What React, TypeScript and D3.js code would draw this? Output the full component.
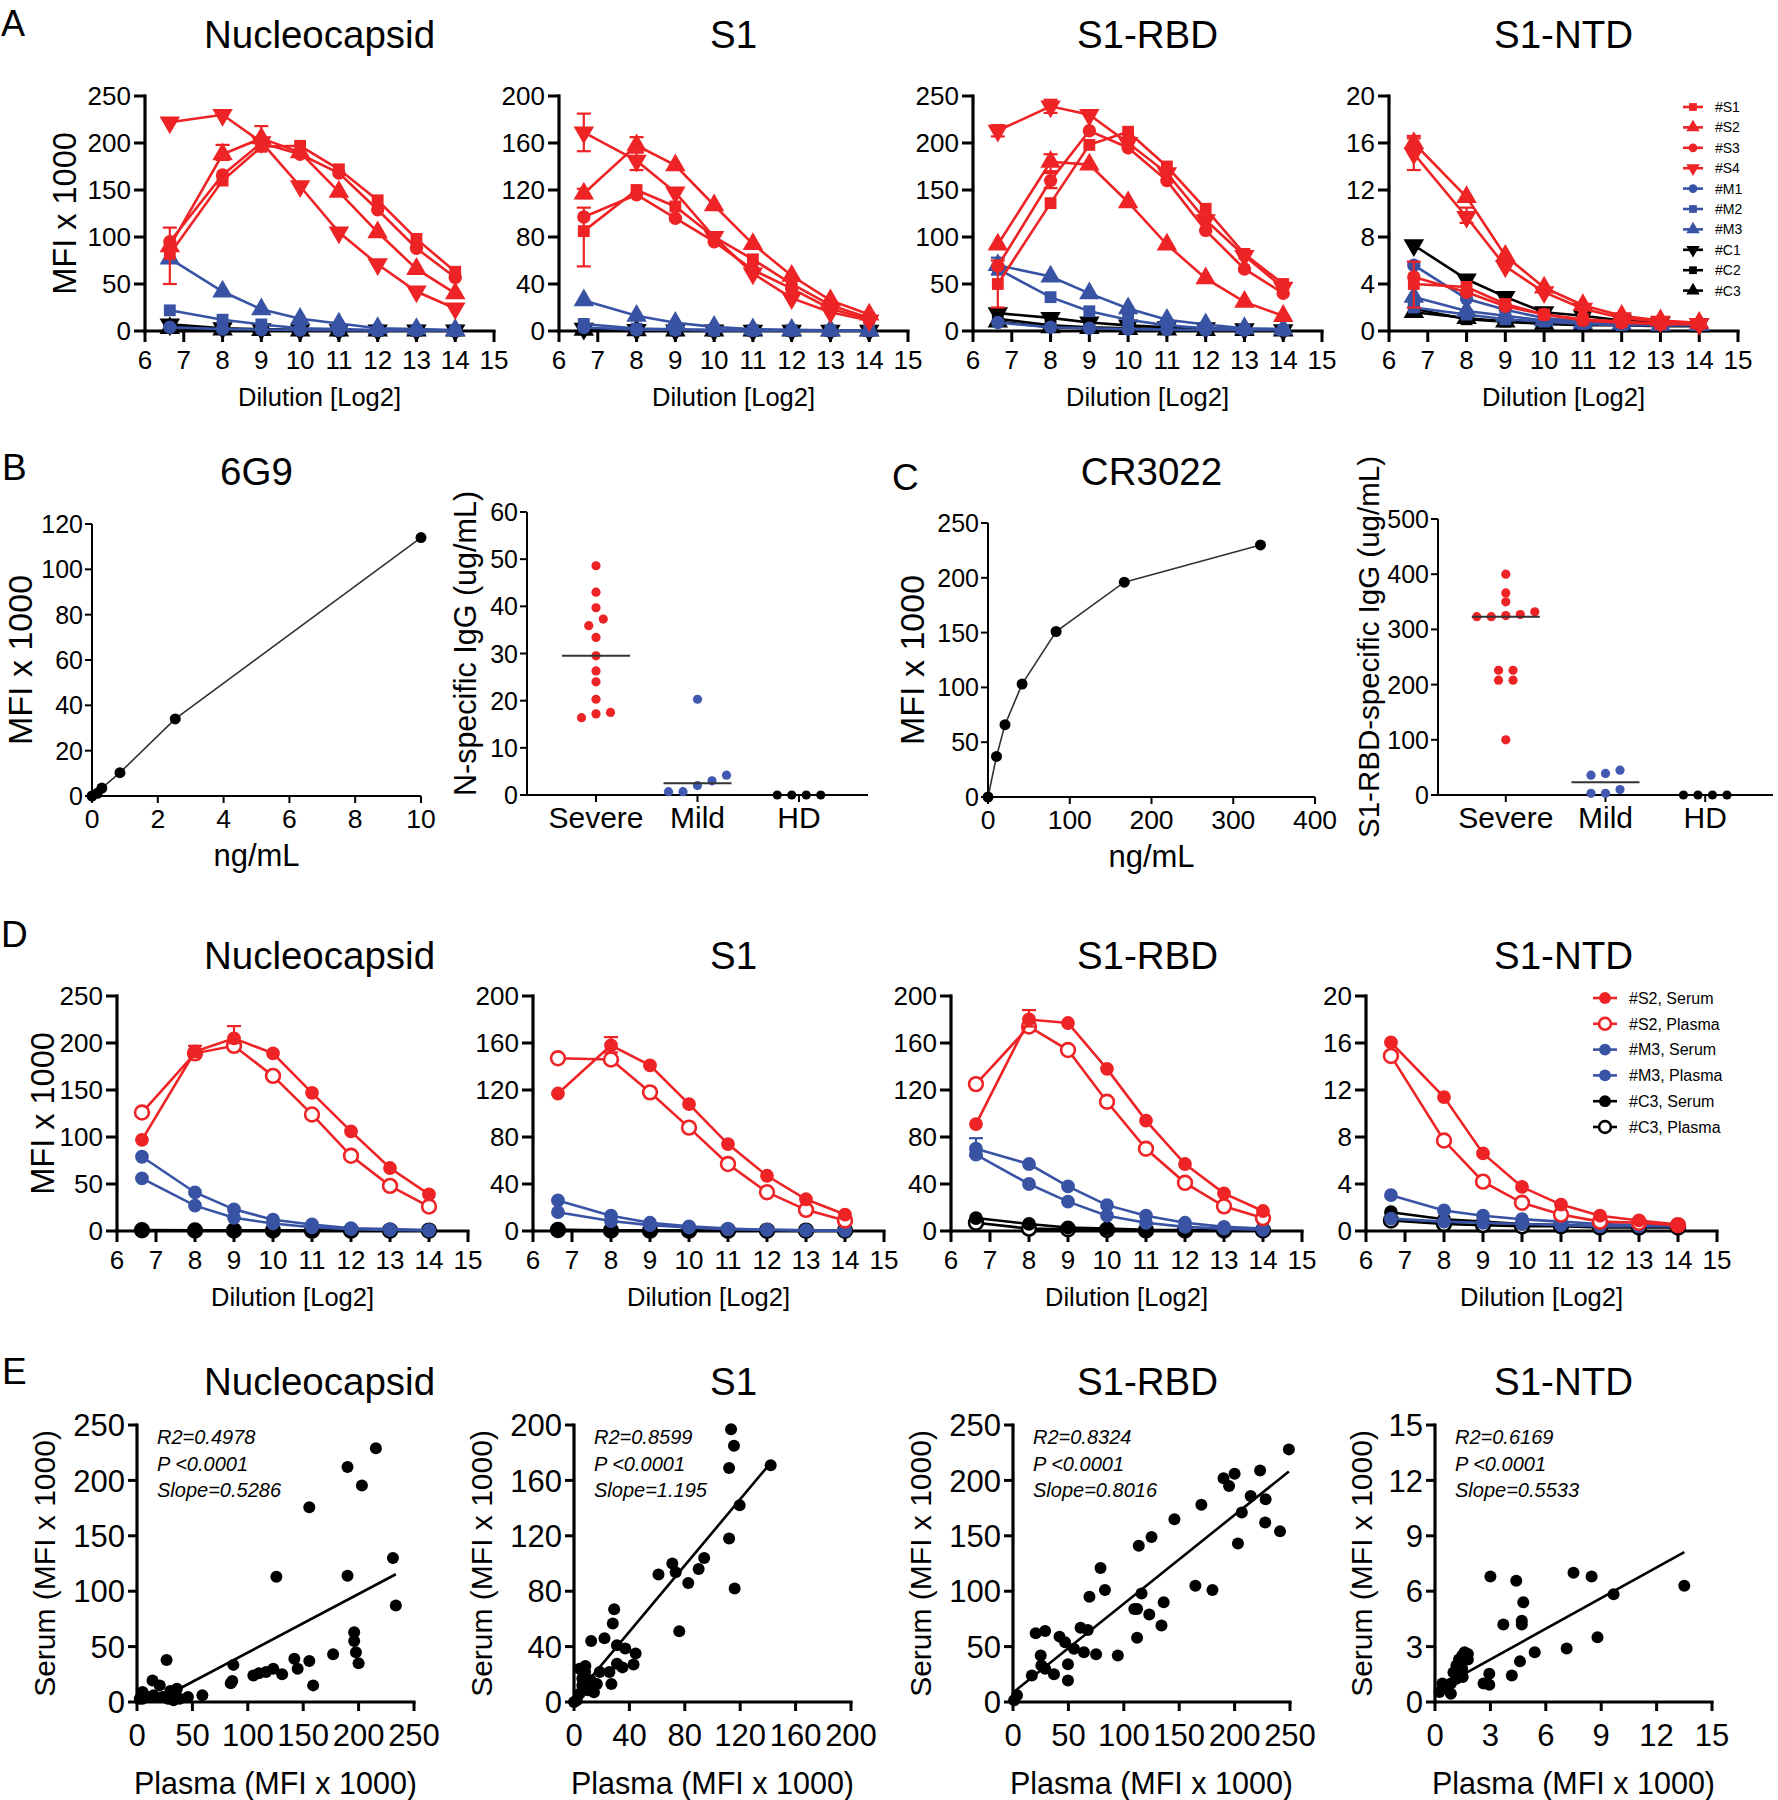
import React from "react";
import * as d3 from "d3";

const RED = "#ed2326";
const BLUE = "#3953a4";
const BLACK = "#000000";
const FONT = "'Liberation Sans', Arial, Helvetica, sans-serif";

type Shape = "circle" | "square" | "triangle" | "triangleDown";

// ---------------- Panel A / D shared ----------------
const dilutions = [6.64, 8, 9, 10, 11, 12, 13, 14];
const dilutionTicks = [6, 7, 8, 9, 10, 11, 12, 13, 14, 15];
const antigenTitles = ["Nucleocapsid", "S1", "S1-RBD", "S1-NTD"];

// ---------------- Panel A data ----------------
const patientNames = ["#S1", "#S2", "#S3", "#S4", "#M1", "#M2", "#M3", "#C1", "#C2", "#C3"];
const patientColors = [RED, RED, RED, RED, BLUE, BLUE, BLUE, BLACK, BLACK, BLACK];
const patientShapes: Shape[] = ["square", "triangle", "circle", "triangleDown", "circle", "square", "triangle", "triangleDown", "square", "triangle"];

const aNucleocapsid = [
  [82, 160, 196, 197, 172, 139, 98, 63],
  [90, 188, 205, 190, 148, 105, 66, 40],
  [95, 166, 200, 188, 168, 129, 88, 57],
  [222, 230, 201, 154, 105, 71, 42, 24],
  [4, 2, 1.5, 1, 0.8, 0.5, 0.5, 0.5],
  [22, 12, 7, 3, 2, 1, 1, 0.5],
  [77, 42, 23, 13, 8, 3, 2, 1],
  [7, 3, 2, 1, 1, 0.5, 0.5, 0.5],
  [5, 2, 1, 1, 0.5, 0.5, 0.5, 0.5],
  [3, 1.5, 1, 0.5, 0.5, 0.5, 0.5, 0.5],
];
const aS1 = [
  [85, 120, 106, 80, 61, 40, 22, 11],
  [117, 158, 141, 107, 74, 47, 26, 14],
  [97, 116, 96, 76, 52, 36, 19, 10],
  [169, 145, 118, 80, 49, 28, 16, 9],
  [3, 1, 0.8, 0.5, 0.5, 0.5, 0.3, 0.3],
  [6, 2, 1.5, 1, 0.5, 0.5, 0.3, 0.3],
  [26, 13, 7, 3.5, 1.5, 1, 0.5, 0.5],
  [2, 1, 0.5, 0.5, 0.3, 0.3, 0.3, 0.3],
  [1.5, 0.8, 0.5, 0.3, 0.3, 0.3, 0.3, 0.3],
  [1, 0.5, 0.3, 0.3, 0.3, 0.3, 0.3, 0.3],
];
const aS1RBD = [
  [50, 136, 198, 212, 175, 130, 82, 50],
  [92, 180, 177, 137, 92, 56, 31, 16],
  [69, 160, 213, 195, 160, 107, 66, 40],
  [213, 239, 230, 200, 168, 118, 80, 46],
  [9, 4, 3, 2, 1.5, 1, 1, 1],
  [66, 36, 21, 12, 6, 3, 2, 1],
  [70, 58, 40, 24, 12, 7, 3, 2],
  [19, 14, 9, 6, 4, 3, 2, 1],
  [13, 6, 4, 3, 2, 1.5, 1, 1],
  [10, 4, 3, 2, 1.5, 1, 1, 0.5],
];
const aS1NTD = [
  [4.0, 3.75, 2.3, 1.4, 1.0, 0.8, 0.6, 0.6],
  [16, 11.4, 6.4, 3.7, 2.2, 1.3, 0.9, 0.7],
  [4.6, 3.3, 2.1, 1.4, 0.9, 0.7, 0.6, 0.6],
  [15.1, 9.7, 5.5, 3.3, 1.9, 1.1, 0.8, 0.6],
  [5.6, 2.75, 1.8, 1.1, 0.8, 0.7, 0.6, 0.6],
  [2.0, 1.4, 1.0, 0.8, 0.6, 0.5, 0.5, 0.5],
  [2.9, 1.7, 1.3, 0.9, 0.7, 0.6, 0.5, 0.5],
  [7.3, 4.4, 2.9, 1.6, 1.3, 0.9, 0.7, 0.6],
  [1.9, 1.0, 0.8, 0.7, 0.6, 0.5, 0.5, 0.5],
  [1.6, 1.1, 0.8, 0.6, 0.5, 0.5, 0.4, 0.4],
];
// [series, point, low, high]
const aNucleocapsidErr = [[0, 0, 50, 110], [1, 1, 182, 198], [1, 2, 194, 218]];
const aS1Err = [[3, 0, 153, 185], [0, 0, 55, 105], [1, 0, 113, 121], [1, 1, 152, 165], [3, 1, 137, 152]];
const aS1RBDErr = [[3, 0, 207, 219], [3, 1, 232, 246], [1, 1, 170, 188], [2, 1, 152, 168], [0, 0, 25, 75], [5, 0, 60, 78]];
const aS1NTDErr = [[1, 0, 15.6, 16.6], [3, 0, 13.7, 16.4], [3, 1, 9.2, 10.5], [0, 0, 2.0, 5.9]];
const aYMax = [250, 200, 250, 20];
const aYStep = [50, 40, 50, 4];

// ---------------- Panel D data ----------------
const sampleNames = ["#S2, Serum", "#S2, Plasma", "#M3, Serum", "#M3, Plasma", "#C3, Serum", "#C3, Plasma"];
const sampleColors = [RED, RED, BLUE, BLUE, BLACK, BLACK];
const sampleOpen = [false, true, false, false, false, true];
const sampleShapes: Shape[] = ["circle", "circle", "circle", "circle", "circle", "circle"];

const dNucleocapsid = [
  [97, 191, 205, 189, 147, 106, 67, 39],
  [126, 189, 197, 165, 124, 80, 48, 26],
  [79, 41, 23, 12, 7, 3, 2, 1],
  [56, 27, 14, 8, 4, 2, 1, 0.5],
  [1, 0.8, 0.7, 0.6, 0.5, 0.5, 0.5, 0.5],
  [0.8, 0.6, 0.5, 0.5, 0.4, 0.4, 0.4, 0.4],
];
const dS1 = [
  [117, 158, 141, 108, 74, 47, 27, 14],
  [147, 146, 118, 88, 57, 33, 18, 9],
  [26, 13, 7, 4, 2, 1, 0.5, 0.5],
  [16, 8.5, 5, 3, 1.5, 1, 0.5, 0.3],
  [1, 0.5, 0.4, 0.3, 0.3, 0.3, 0.3, 0.3],
  [0.8, 0.4, 0.3, 0.3, 0.3, 0.3, 0.3, 0.3],
];
const dS1RBD = [
  [91, 180, 177, 138, 94, 57, 32, 17],
  [125, 174, 154, 110, 70, 41, 21, 11],
  [70, 57, 38, 22, 13, 7, 3.5, 2],
  [65, 40, 25, 13, 7, 3.5, 2, 1],
  [11, 6, 3, 2, 1, 0.8, 0.5, 0.5],
  [7, 2, 1.5, 1, 0.5, 0.5, 0.5, 0.5],
];
const dS1NTD = [
  [16.05, 11.4, 6.6, 3.75, 2.25, 1.3, 0.9, 0.55],
  [14.9, 7.7, 4.2, 2.4, 1.4, 0.8, 0.7, 0.5],
  [3.05, 1.75, 1.3, 1.0, 0.8, 0.6, 0.5, 0.5],
  [1.05, 0.8, 0.7, 0.6, 0.5, 0.4, 0.4, 0.4],
  [1.6, 1.0, 0.8, 0.6, 0.5, 0.4, 0.4, 0.4],
  [0.9, 0.6, 0.5, 0.4, 0.4, 0.3, 0.3, 0.3],
];
const dNucleocapsidErr = [[0, 1, 185, 197], [0, 2, 200, 218]];
const dS1Err = [[0, 1, 152, 165]];
const dS1RBDErr = [[0, 1, 174, 188], [2, 0, 64, 79]];
const dS1NTDErr: number[][] = [];
const dYMax = [250, 200, 200, 20];
const dYStep = [50, 40, 40, 4];

// ---------------- Panel B / C data ----------------
const conc6G9 = [0, 0.16, 0.3, 0.85, 2.53, 10];
const mfi6G9 = [0, 1.2, 3.5, 10.3, 34, 114];
const concCR3022 = [0, 10.4, 20.8, 41.7, 83.3, 166.7, 333.3];
const mfiCR3022 = [0, 37, 66, 103, 151, 196, 230];

const groupNames = ["Severe", "Mild", "HD"];
const groupColors = [RED, "#4058b0", BLACK];
const nSevere = [48.6, 43, 39.7, 37.3, 35.9, 33.4, 29.5, 26.3, 24, 20.3, 17.5, 17.2, 16.4];
const nMild = [20.3, 4.2, 3.0, 2.0, 0.7, 0.7];
const nHD = [0, 0, 0, 0];
const rbdSevere = [400, 366, 350, 332, 327, 325, 323, 323, 226, 226, 208, 208, 100];
const rbdMild = [45, 39, 36, 10, 3, 3];
const rbdHD = [0, 0, 0, 0];

// ---------------- Panel E data ----------------
const e1Plasma = [215.6, 190, 203, 155.5, 125.8, 190, 231, 233.6, 196, 196, 197.6, 200, 177, 155.5, 142, 145, 131, 123, 116.5, 105, 87, 84.6, 86, 159, 26.7, 14, 20.5, 59, 46, 36, 5, 2.5, 10, 15, 23, 28, 33, 5, 33, 38.5, 110, 30];
const e1Serum = [229, 212, 195.5, 175.7, 113, 114, 130, 87, 63, 55, 45, 35, 43, 37, 39, 30, 25, 30, 27, 24, 33.5, 17, 19, 15, 38, 19.5, 15, 6, 4.5, 12, 9, 3, 4.5, 6, 4.5, 3, 7.5, 3, 1.5, 3, 26, 10];
const e2Plasma = [113.4, 115.5, 112, 142, 119.6, 112, 116, 94, 90, 82.5, 71, 73.4, 61, 76, 29, 28, 22, 12.4, 31, 37, 44.5, 43, 31, 35, 25.6, 18.6, 8.2, 27, 16.5, 12, 6, 10, 4, 2, 6, 14.4, 0, 8, 4, 11];
const e2Serum = [197, 185, 169, 171, 142, 118, 82, 104, 96, 86, 100, 93.7, 92, 51, 67, 56.6, 46, 44, 41, 38.6, 35, 27, 27.7, 25, 21.7, 21.7, 26, 13, 13, 15.7, 12, 8.4, 6, 1.2, 17, 7, 0, 21.7, 24, 10];
const e3Plasma = [249, 200, 190, 223, 195, 214.5, 228, 206.5, 227.6, 241, 203, 170, 145.7, 125, 113.5, 116, 109.5, 112, 123, 136, 134, 112, 164.6, 180, 79, 83, 69, 67.5, 61, 64, 75, 94.6, 55, 42, 47, 29, 20.5, 25, 25.6, 37, 17, 49.6, 49.6, 3.6, 1, 29];
const e3Serum = [228, 206, 202, 209, 195, 186, 183, 171, 162, 154, 143, 178, 165, 149, 141, 98, 84, 84, 79, 90, 69, 58, 105, 101, 121, 101, 95, 65, 67, 45, 43, 42, 48, 59, 54, 64, 62, 42, 33, 25, 24, 34, 19.5, 6, 1.5, 30];
const e4Plasma = [13.5, 9.67, 8.8, 8.48, 7.5, 7.13, 5.4, 4.6, 4.78, 4.4, 4.7, 4.7, 3.7, 3.0, 4.16, 2.94, 2.63, 2.94, 1.47, 1.6, 1.3, 1.78, 1.16, 1.47, 1.0, 1.5, 1.16, 0.86, 0.55, 0.4, 0.86, 0.24, 1.78, 1.3];
const e4Serum = [6.29, 5.84, 3.5, 6.8, 7.0, 2.9, 2.7, 2.2, 5.4, 6.56, 4.4, 4.2, 4.2, 6.8, 1.44, 1.53, 1.0, 0.93, 2.5, 2.7, 2.3, 2.3, 1.98, 1.8, 1.6, 1.35, 1.26, 1.0, 0.8, 1.0, 0.45, 0.54, 2.6, 1.8];
const eStats = [
  ["R2=0.4978", "P <0.0001", "Slope=0.5286"],
  ["R2=0.8599", "P <0.0001", "Slope=1.195"],
  ["R2=0.8324", "P <0.0001", "Slope=0.8016"],
  ["R2=0.6169", "P <0.0001", "Slope=0.5533"],
];
const eSlopes = [0.5286, 1.195, 0.8016, 0.5533];
const eIntercepts = [-8.2, 3, 8.5, 0.65];
const eMax = [250, 200, 250, 15];
const eStep = [50, 40, 50, 3];

// ---------------- Layout ----------------
const A_LEFT = [145, 559, 973, 1389];
const A_TOP = 96;
const A_W = 349;
const A_H = 235;
const D_LEFT = [117, 533, 951, 1366];
const D_TOP = 996;
const D_W = 351;
const D_H = 235;
const E_LEFT = [137, 574, 1013, 1435];
const E_TOP = 1425;
const E_SIZE = 277;
const TITLE_X = A_LEFT.map((l) => l + A_W / 2);
const TITLE_SIZE = 38.5;

function Marker({ shape, x, y, color, open = false, area }: { shape: Shape; x: number; y: number; color: string; open?: boolean; area: number }) {
  const type = shape === "circle" ? d3.symbolCircle : shape === "square" ? d3.symbolSquare : d3.symbolTriangle;
  const d = d3.symbol().type(type).size(shape === "circle" || shape === "square" ? area : area * 1.3)() || "";
  const rot = shape === "triangleDown" ? 180 : 0;
  return (
    <path
      d={d}
      transform={`translate(${x},${y}) rotate(${rot})`}
      fill={open ? "#ffffff" : color}
      stroke={color}
      strokeWidth={open ? 2.6 : 0}
    />
  );
}

function DilutionPanel(props: {
  left: number; top: number; width: number; height: number; yMax: number; yStep: number;
  title: string; titleX: number; titleY: number; rows: number[][]; colors: string[]; shapes: Shape[]; open?: boolean[];
  errors: number[][]; yLabelX?: number; area: number;
}) {
  const { left, top, width, height, yMax, yStep, title, titleX, titleY, rows, colors, shapes, open, errors, yLabelX, area } = props;
  const bottom = top + height;
  const x = d3.scaleLinear().domain([6, 15]).range([left, left + width]);
  const y = d3.scaleLinear().domain([0, yMax]).range([bottom, top]);
  const yTicks = d3.range(0, yMax + yStep / 2, yStep);
  const line = d3.line<number>().x((_, i) => x(dilutions[i])).y((d) => y(d));
  const order = d3.range(rows.length).reverse();
  return (
    <g>
      <text x={titleX} y={titleY} textAnchor="middle" fontSize={TITLE_SIZE}>{title}</text>
      <line x1={left} x2={left} y1={top} y2={bottom} stroke="#000" strokeWidth={3.2} strokeLinecap="square" />
      <line x1={left} x2={left + width} y1={bottom} y2={bottom} stroke="#000" strokeWidth={3.2} strokeLinecap="square" />
      {yTicks.map((t) => (
        <g key={"y" + t}>
          <line x1={left - 11} x2={left} y1={y(t)} y2={y(t)} stroke="#000" strokeWidth={3} />
          <text x={left - 14} y={y(t)} dy="0.36em" textAnchor="end" fontSize={26}>{t}</text>
        </g>
      ))}
      {dilutionTicks.map((t) => (
        <g key={"x" + t}>
          <line x1={x(t)} x2={x(t)} y1={bottom} y2={bottom + 11} stroke="#000" strokeWidth={3} />
          <text x={x(t)} y={bottom + 38} textAnchor="middle" fontSize={26}>{t}</text>
        </g>
      ))}
      <text x={left + width / 2} y={bottom + 75} textAnchor="middle" fontSize={25.5}>Dilution [Log2]</text>
      {yLabelX !== undefined && (
        <text transform={`translate(${yLabelX},${(top + bottom) / 2}) rotate(-90)`} textAnchor="middle" dy="0.36em" fontSize={32.5}>MFI x 1000</text>
      )}
      {order.map((si) => (
        <g key={"s" + si}>
          {errors.filter((e) => e[0] === si).map((e, k) => {
            const ex = x(dilutions[e[1]]);
            return (
              <g key={k} stroke={colors[si]} strokeWidth={2.2}>
                <line x1={ex} x2={ex} y1={y(e[2])} y2={y(e[3])} />
                <line x1={ex - 7} x2={ex + 7} y1={y(e[2])} y2={y(e[2])} />
                <line x1={ex - 7} x2={ex + 7} y1={y(e[3])} y2={y(e[3])} />
              </g>
            );
          })}
          <path d={line(rows[si]) || ""} fill="none" stroke={colors[si]} strokeWidth={2.6} />
          {rows[si].map((v, i) => (
            <Marker key={i} shape={shapes[si]} x={x(dilutions[i])} y={y(v)} color={colors[si]} open={open ? open[si] : false} area={area} />
          ))}
        </g>
      ))}
    </g>
  );
}

function Legend({ x, y, step, names, colors, shapes, open, fontSize, area, half }: {
  x: number; y: number; step: number; names: string[]; colors: string[]; shapes: Shape[]; open?: boolean[]; fontSize: number; area: number; half: number;
}) {
  return (
    <g>
      {names.map((n, i) => (
        <g key={n}>
          <line x1={x - half} x2={x + half} y1={y + i * step} y2={y + i * step} stroke={colors[i]} strokeWidth={2.6} />
          <Marker shape={shapes[i]} x={x} y={y + i * step} color={colors[i]} open={open ? open[i] : false} area={area} />
          <text x={x + half + 12} y={y + i * step} dy="0.36em" fontSize={fontSize}>{n}</text>
        </g>
      ))}
    </g>
  );
}

function CurvePanel(props: {
  left: number; right: number; top: number; bottom: number; xMax: number; xStep: number; yMax: number; yStep: number;
  xs: number[]; ys: number[]; title: string; titleY: number; yLabelX: number;
}) {
  const { left, right, top, bottom, xMax, xStep, yMax, yStep, xs, ys, title, titleY, yLabelX } = props;
  const x = d3.scaleLinear().domain([0, xMax]).range([left, right]);
  const y = d3.scaleLinear().domain([0, yMax]).range([bottom, top]);
  const xTicks = d3.range(0, xMax + xStep / 2, xStep);
  const yTicks = d3.range(0, yMax + yStep / 2, yStep);
  const line = d3.line<number>().x((d) => x(d)).y((_, i) => y(ys[i]));
  return (
    <g>
      <text x={(left + right) / 2} y={titleY} textAnchor="middle" fontSize={TITLE_SIZE}>{title}</text>
      <line x1={left} x2={left} y1={top} y2={bottom} stroke="#000" strokeWidth={2} />
      <line x1={left} x2={right} y1={bottom} y2={bottom} stroke="#000" strokeWidth={2} />
      {yTicks.map((t) => (
        <g key={"y" + t}>
          <line x1={left - 7} x2={left} y1={y(t)} y2={y(t)} stroke="#000" strokeWidth={2} />
          <text x={left - 9} y={y(t)} dy="0.36em" textAnchor="end" fontSize={25}>{t}</text>
        </g>
      ))}
      {xTicks.map((t) => (
        <g key={"x" + t}>
          <line x1={x(t)} x2={x(t)} y1={bottom} y2={bottom + 7} stroke="#000" strokeWidth={2} />
          <text x={x(t)} y={bottom + 32} textAnchor="middle" fontSize={26.5}>{t}</text>
        </g>
      ))}
      <text x={(left + right) / 2} y={bottom + 70} textAnchor="middle" fontSize={31}>ng/mL</text>
      <text transform={`translate(${yLabelX},${(top + bottom) / 2}) rotate(-90)`} textAnchor="middle" dy="0.36em" fontSize={34}>MFI x 1000</text>
      <path d={line(xs) || ""} fill="none" stroke="#333" strokeWidth={1.6} />
      {xs.map((v, i) => (
        <circle key={i} cx={x(v)} cy={y(ys[i])} r={5.5} fill="#000" />
      ))}
    </g>
  );
}

function swarmOffsets(values: number[], y: (v: number) => number, spacing: number, thresh: number) {
  const idx = d3.range(values.length).sort((a, b) => values[a] - values[b]);
  const clusters: number[][] = [];
  let cur: number[] = [];
  idx.forEach((i) => {
    if (cur.length && Math.abs(y(values[i]) - y(values[cur[cur.length - 1]])) > thresh) {
      clusters.push(cur);
      cur = [];
    }
    cur.push(i);
  });
  if (cur.length) clusters.push(cur);
  const off: number[] = new Array(values.length).fill(0);
  clusters.forEach((c) => c.forEach((i, k) => (off[i] = (k - (c.length - 1) / 2) * spacing)));
  return off;
}

function CategoryPanel(props: {
  left: number; right: number; top: number; bottom: number; yMax: number; yStep: number;
  groups: number[][]; yLabel: string; yLabelX: number; yLabelSize: number;
}) {
  const { left, right, top, bottom, yMax, yStep, groups, yLabel, yLabelX, yLabelSize } = props;
  const x = d3.scalePoint<string>().domain(groupNames).range([left, right]).padding(0.68);
  const y = d3.scaleLinear().domain([0, yMax]).range([bottom, top]);
  const yTicks = d3.range(0, yMax + yStep / 2, yStep);
  return (
    <g>
      <line x1={left} x2={left} y1={top} y2={bottom} stroke="#000" strokeWidth={2} />
      <line x1={left} x2={right} y1={bottom} y2={bottom} stroke="#000" strokeWidth={2} />
      {yTicks.map((t) => (
        <g key={"y" + t}>
          <line x1={left - 7} x2={left} y1={y(t)} y2={y(t)} stroke="#000" strokeWidth={2} />
          <text x={left - 9} y={y(t)} dy="0.36em" textAnchor="end" fontSize={25}>{t}</text>
        </g>
      ))}
      {groupNames.map((g) => (
        <g key={g}>
          <line x1={x(g)} x2={x(g)} y1={bottom} y2={bottom + 7} stroke="#000" strokeWidth={2} />
          <text x={x(g)} y={bottom + 33} textAnchor="middle" fontSize={30}>{g}</text>
        </g>
      ))}
      <text transform={`translate(${yLabelX},${(top + bottom) / 2 - 10}) rotate(-90)`} textAnchor="middle" dy="0.36em" fontSize={yLabelSize}>{yLabel}</text>
      {groups.map((vals, gi) => {
        const cx = x(groupNames[gi]) as number;
        const off = swarmOffsets(vals, y, 14.5, 8);
        const med = d3.median(vals) as number;
        return (
          <g key={gi}>
            {vals.map((v, i) => (
              <circle key={i} cx={cx + off[i]} cy={y(v)} r={4.6} fill={groupColors[gi]} />
            ))}
            {gi < 2 && <line x1={cx - 34} x2={cx + 34} y1={y(med)} y2={y(med)} stroke="#333" strokeWidth={2} />}
          </g>
        );
      })}
    </g>
  );
}

function ScatterPanel(props: {
  left: number; top: number; size: number; max: number; step: number; title: string; titleX: number;
  px: number[]; sy: number[]; slope: number; intercept: number; stats: string[]; yLabelDx: number;
}) {
  const { left, top, size, max, step, title, titleX, px, sy, slope, intercept, stats, yLabelDx } = props;
  const bottom = top + size;
  const x = d3.scaleLinear().domain([0, max]).range([left, left + size]);
  const y = d3.scaleLinear().domain([0, max]).range([bottom, top]);
  const ticks = d3.range(0, max + step / 2, step);
  const ext = d3.extent(px) as [number, number];
  const x0 = intercept < 0 ? Math.max(ext[0], -intercept / slope) : ext[0];
  const x1 = ext[1];
  return (
    <g>
      <text x={titleX} y={top - 30} textAnchor="middle" fontSize={TITLE_SIZE}>{title}</text>
      <line x1={left} x2={left} y1={top} y2={bottom} stroke="#000" strokeWidth={3.2} strokeLinecap="square" />
      <line x1={left} x2={left + size} y1={bottom} y2={bottom} stroke="#000" strokeWidth={3.2} strokeLinecap="square" />
      {ticks.map((t) => (
        <g key={"t" + t}>
          <line x1={left - 9} x2={left} y1={y(t)} y2={y(t)} stroke="#000" strokeWidth={3} />
          <text x={left - 12} y={y(t)} dy="0.36em" textAnchor="end" fontSize={31}>{t}</text>
          <line x1={x(t)} x2={x(t)} y1={bottom} y2={bottom + 9} stroke="#000" strokeWidth={3} />
          <text x={x(t)} y={bottom + 44} textAnchor="middle" fontSize={31}>{t}</text>
        </g>
      ))}
      <text x={left + size / 2} y={bottom + 92} textAnchor="middle" fontSize={30.5}>Plasma (MFI x 1000)</text>
      <text transform={`translate(${left + yLabelDx},${(top + bottom) / 2}) rotate(-90)`} textAnchor="middle" dy="0.36em" fontSize={30}>Serum  (MFI x 1000)</text>
      {stats.map((s, i) => (
        <text key={s} x={left + 20} y={top + 19 + i * 26.5} fontSize={20} fontStyle="italic">{s}</text>
      ))}
      <line x1={x(x0)} x2={x(x1)} y1={y(slope * x0 + intercept)} y2={y(slope * x1 + intercept)} stroke="#000" strokeWidth={2.6} />
      {px.map((v, i) => (
        <circle key={i} cx={x(v)} cy={y(sy[i])} r={6} fill="#000" />
      ))}
    </g>
  );
}

export default function App() {
  const aRows = [aNucleocapsid, aS1, aS1RBD, aS1NTD];
  const aErr = [aNucleocapsidErr, aS1Err, aS1RBDErr, aS1NTDErr];
  const dRows = [dNucleocapsid, dS1, dS1RBD, dS1NTD];
  const dErr = [dNucleocapsidErr, dS1Err, dS1RBDErr, dS1NTDErr];
  const ePx = [e1Plasma, e2Plasma, e3Plasma, e4Plasma];
  const eSy = [e1Serum, e2Serum, e3Serum, e4Serum];
  return (
    <svg
      width={1778}
      height={1800}
      viewBox="0 0 1778 1800"
      style={{ position: "absolute", left: 0, top: 0, background: "#fff" }}
      fontFamily={FONT}
    >
      <rect width={1778} height={1800} fill="#fff" />
      <text x={1} y={36} fontSize={36}>A</text>
      <text x={2} y={480} fontSize={37}>B</text>
      <text x={892} y={490} fontSize={37}>C</text>
      <text x={1} y={947} fontSize={37}>D</text>
      <text x={2} y={1384} fontSize={37}>E</text>

      {antigenTitles.map((t, i) => (
        <DilutionPanel
          key={"A" + i}
          left={A_LEFT[i]} top={A_TOP} width={A_W} height={A_H}
          yMax={aYMax[i]} yStep={aYStep[i]} title={t} titleX={TITLE_X[i]} titleY={48}
          rows={aRows[i]} colors={patientColors} shapes={patientShapes}
          errors={aErr[i]} yLabelX={i === 0 ? 64 : undefined} area={140}
        />
      ))}
      <Legend x={1693} y={107} step={20.4} names={patientNames} colors={patientColors} shapes={patientShapes} fontSize={14} area={60} half={10} />

      <CurvePanel left={92} right={421} top={524} bottom={796} xMax={10} xStep={2} yMax={120} yStep={20}
        xs={conc6G9} ys={mfi6G9} title="6G9" titleY={485} yLabelX={20} />
      <CategoryPanel left={527} right={868} top={512} bottom={795} yMax={60} yStep={10}
        groups={[nSevere, nMild, nHD]} yLabel="N-specific IgG (ug/mL)" yLabelX={465} yLabelSize={30.5} />

      <CurvePanel left={988} right={1315} top={523} bottom={797} xMax={400} xStep={100} yMax={250} yStep={50}
        xs={concCR3022} ys={mfiCR3022} title="CR3022" titleY={485} yLabelX={912} />
      <CategoryPanel left={1438} right={1773} top={519} bottom={795} yMax={500} yStep={100}
        groups={[rbdSevere, rbdMild, rbdHD]} yLabel="S1-RBD-specific IgG (ug/mL)" yLabelX={1368} yLabelSize={29.5} />

      {antigenTitles.map((t, i) => (
        <DilutionPanel
          key={"D" + i}
          left={D_LEFT[i]} top={D_TOP} width={D_W} height={D_H}
          yMax={dYMax[i]} yStep={dYStep[i]} title={t} titleX={TITLE_X[i]} titleY={969}
          rows={dRows[i]} colors={sampleColors} shapes={sampleShapes} open={sampleOpen}
          errors={dErr[i]} yLabelX={i === 0 ? 42 : undefined} area={150}
        />
      ))}
      <Legend x={1605} y={998} step={25.8} names={sampleNames} colors={sampleColors} shapes={sampleShapes} open={sampleOpen} fontSize={16} area={110} half={12} />

      {antigenTitles.map((t, i) => (
        <ScatterPanel
          key={"E" + i}
          left={E_LEFT[i]} top={E_TOP} size={E_SIZE} max={eMax[i]} step={eStep[i]} title={t} titleX={TITLE_X[i]}
          px={ePx[i]} sy={eSy[i]} slope={eSlopes[i]} intercept={eIntercepts[i]} stats={eStats[i]}
          yLabelDx={i === 3 ? -74 : -93}
        />
      ))}
    </svg>
  );
}
